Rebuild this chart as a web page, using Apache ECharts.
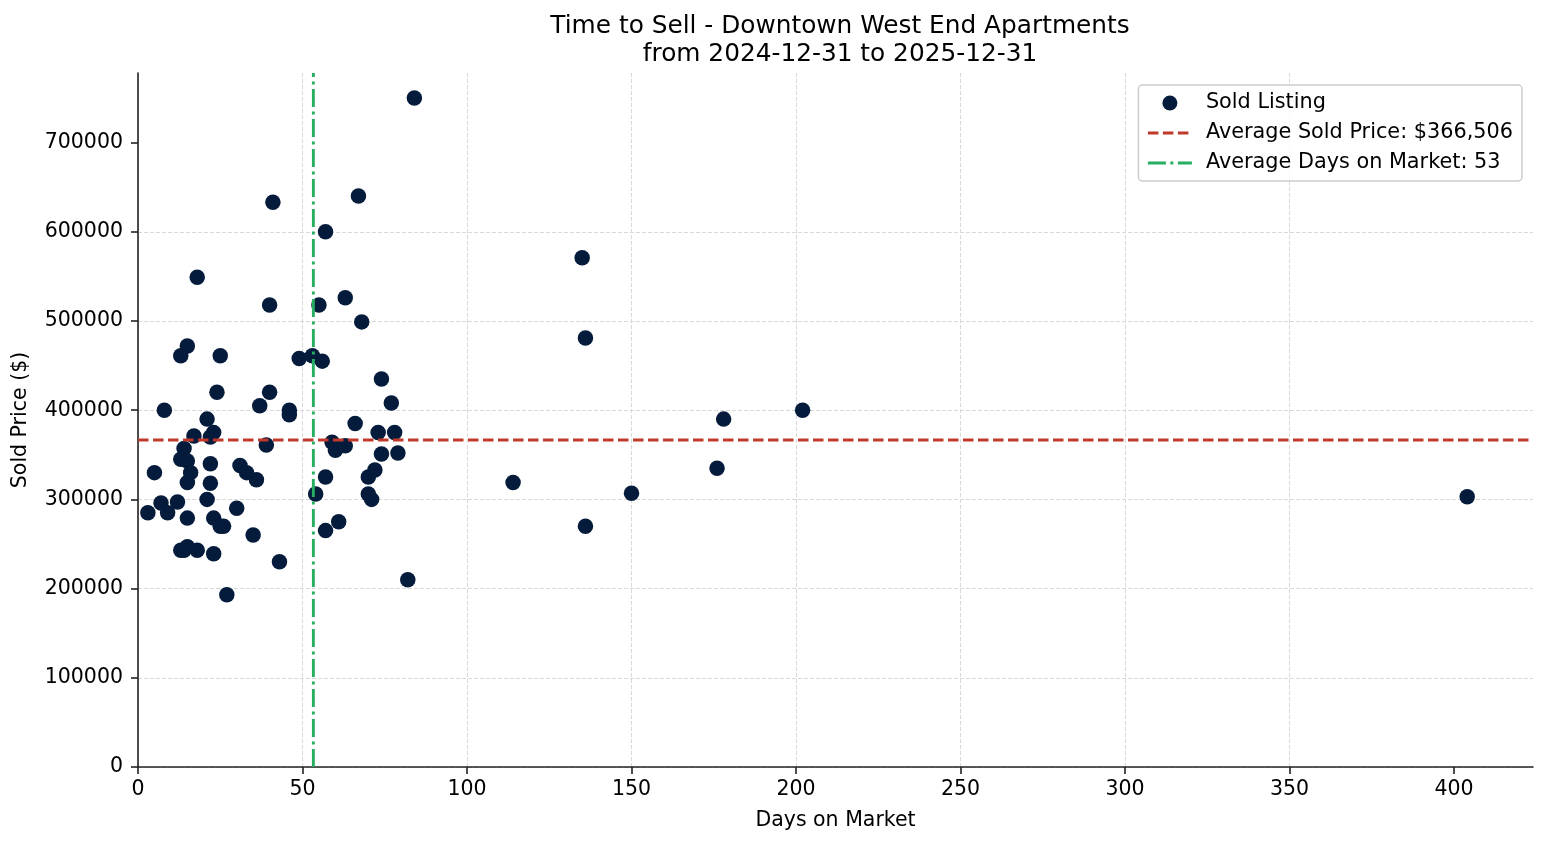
<!DOCTYPE html>
<html>
<head>
<meta charset="utf-8">
<script src="https://cdn.jsdelivr.net/npm/echarts@6/dist/echarts.min.js"></script>
<style>
html,body{margin:0;padding:0;background:#fff;}
#chart{width:1547px;height:845px;}
</style>
</head>
<body>
<div id="chart"></div>
<script>
// ---- data ----
const daysOnMarket = [84,41,67,57,18,40,55,63,68,15,13,25,49,53,56,74,24,40,37,46,46,77,8,21,66,23,22,17,73,78,39,59,60,63,14,74,79,13,15,22,31,33,36,16,15,5,22,57,70,72,70,71,54,21,12,7,9,3,30,15,23,25,26,61,57,35,13,14,15,18,23,43,82,27,135,136,114,136,150,176,178,202,404];
const soldPrice = [750000,633000,640000,600000,549000,518000,518000,526000,499000,472000,461000,461000,458000,461000,455000,435000,420000,420000,405000,400000,395000,408000,400000,390000,385000,375000,370000,371000,375000,375000,361000,364000,355000,360000,357000,351000,352000,345000,343000,340000,338000,330000,322000,330000,319000,330000,318000,325000,325000,333000,306000,300000,306000,300000,297000,296000,285000,285000,290000,279000,279000,270000,270000,275000,265000,260000,243000,243000,247000,243000,239000,230000,210000,193000,571000,481000,319000,270000,307000,335000,390000,400000,303000];
const AVG_PRICE = 366506;
const AVG_DAYS = 53.3;
const xTicks = [0,50,100,150,200,250,300,350,400];
const yTicks = [0,100000,200000,300000,400000,500000,600000,700000];
const X_MAX = 424;
const Y_MAX = 778000;

const points = daysOnMarket.map((d, i) => [d, soldPrice[i]]);
const nameScatter = 'Sold Listing';
const namePrice = 'Average Sold Price: $' + AVG_PRICE.toLocaleString('en-US');
const nameDays = 'Average Days on Market: ' + Math.round(AVG_DAYS);

const FONT = 'DejaVu Sans';
const FS = 20.5;
const chart = echarts.init(document.getElementById('chart'), null, {renderer: 'canvas'});
chart.setOption({
  animation: false,
  backgroundColor: '#ffffff',
  textStyle: {fontFamily: FONT, color: '#000'},
  title: {
    text: 'Time to Sell - Downtown West End Apartments\nfrom 2024-12-31 to 2025-12-31',
    left: 835, top: 8, textAlign: 'center',
    textStyle: {fontFamily: FONT, fontSize: 24.8, fontWeight: 'normal', color: '#000', lineHeight: 28}
  },
  grid: {left: 138, right: 14, top: 73, bottom: 78, containLabel: false},
  legend: {
    orient: 'vertical', right: 25, top: 85,
    padding: [7, 9, 7, 8],
    itemGap: 8, itemWidth: 44, itemHeight: 15,
    backgroundColor: 'rgba(255,255,255,0.8)',
    borderColor: '#cccccc', borderWidth: 1.5, borderRadius: 4,
    textStyle: {fontFamily: FONT, fontSize: 20.8, color: '#000', padding: [0,0,0,9], lineHeight: 22},
    data: [
      {name: nameScatter, icon: 'circle'},
      {name: namePrice, itemStyle: {opacity: 0}, lineStyle: {width: 2.9, color: '#c0392b', type: [10.5, 4.5]}},
      {name: nameDays, itemStyle: {opacity: 0}, lineStyle: {width: 2.9, color: '#27ae60', type: [18, 4.5, 3, 4.5]}}
    ]
  },
  xAxis: {
    type: 'value', min: 0, max: X_MAX, interval: 50,
    name: 'Days on Market', nameLocation: 'middle', nameGap: 43,
    nameTextStyle: {fontFamily: FONT, fontSize: FS, color: '#000'},
    axisLine: {show: true, onZero: false, lineStyle: {color: '#222', width: 1.6}},
    axisTick: {show: true, length: 7, lineStyle: {color: '#222', width: 1.6}, customValues: xTicks},
    axisLabel: {fontFamily: FONT, fontSize: FS, color: '#000', margin: 12, customValues: xTicks,
      formatter: v => String(v)},
    splitLine: {show: true, showMaxLine: false, lineStyle: {color: '#d9d9d9', width: 1, type: [4, 2]}}
  },
  yAxis: {
    type: 'value', min: 0, max: Y_MAX, interval: 100000,
    name: 'Sold Price ($)', nameLocation: 'middle', nameGap: 107, nameRotate: 90,
    nameTextStyle: {fontFamily: FONT, fontSize: FS, color: '#000'},
    axisLine: {show: true, onZero: false, lineStyle: {color: '#222', width: 1.6}},
    axisTick: {show: true, length: 7, lineStyle: {color: '#222', width: 1.6}, customValues: yTicks},
    axisLabel: {fontFamily: FONT, fontSize: FS, color: '#000', margin: 15, customValues: yTicks,
      formatter: v => String(v)},
    splitLine: {show: true, showMaxLine: false, lineStyle: {color: '#d9d9d9', width: 1, type: [4, 2]}}
  },
  series: [
    {
      name: nameScatter, type: 'scatter', data: points,
      symbol: 'circle', symbolSize: 15.5,
      itemStyle: {color: '#051b3b', opacity: 1}, z: 2
    },
    {
      name: namePrice, type: 'line', data: [[0, AVG_PRICE], [X_MAX, AVG_PRICE]],
      symbol: 'none', showSymbol: false,
      itemStyle: {color: '#c0392b'},
      lineStyle: {color: '#c0392b', width: 2.9, type: [10.5, 4.5]}, z: 3
    },
    {
      name: nameDays, type: 'line', data: [[AVG_DAYS, 0], [AVG_DAYS, Y_MAX]],
      symbol: 'none', showSymbol: false,
      itemStyle: {color: '#27ae60'},
      lineStyle: {color: '#27ae60', width: 2.9, type: [18, 4.5, 3, 4.5]}, z: 3
    }
  ]
});
</script>
</body>
</html>
